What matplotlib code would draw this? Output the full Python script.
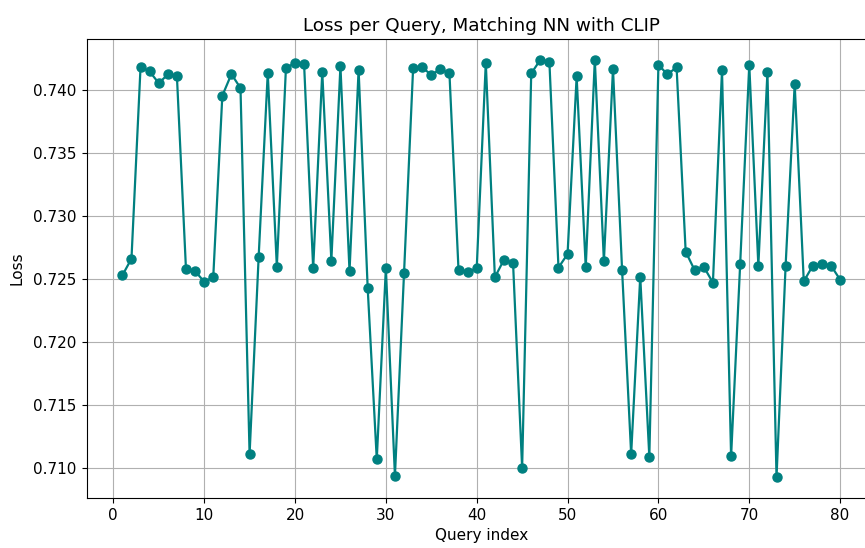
import numpy as np
import matplotlib.pyplot as plt

plt.rcParams['font.size'] = 11

# loss per query
query_idx = np.arange(1, 81)
loss = [
    0.72532, 0.72664, 0.74188, 0.74151, 0.74058, 0.74127, 0.74116, 0.72579,
    0.72566, 0.72481, 0.72516, 0.73958, 0.74130, 0.74019, 0.71111, 0.72680,
    0.74138, 0.72601, 0.74175, 0.74222, 0.74209, 0.72587, 0.74146, 0.72648,
    0.74193, 0.72563, 0.74164, 0.72431, 0.71071, 0.72587, 0.70939, 0.72548,
    0.74177, 0.74183, 0.74124, 0.74169, 0.74135, 0.72571, 0.72558, 0.72587,
    0.74220, 0.72516, 0.72656, 0.72630, 0.71003, 0.74135, 0.74243, 0.74228,
    0.72593, 0.72701, 0.74111, 0.72595, 0.74243, 0.72643, 0.74172, 0.72577,
    0.71111, 0.72521, 0.71090, 0.74204, 0.74127, 0.74185, 0.72720, 0.72571,
    0.72598, 0.72474, 0.74161, 0.71093, 0.72622, 0.74204, 0.72609, 0.74146,
    0.70929, 0.72606, 0.74050, 0.72484, 0.72609, 0.72624, 0.72609, 0.72497,
]

fig = plt.figure(figsize=(8.65, 5.48), dpi=100)
# axes run a bit past the right edge, as in the original crop
ax = fig.add_axes([86.5/865, 50/548, 789.5/865, 459/548])

ax.plot(query_idx, loss, color='teal', marker='o', markersize=6.5, linewidth=1.6)

ax.set_title('Loss per Query, Matching NN with CLIP')
ax.set_xlabel('Query index')
ax.set_ylabel('Loss', labelpad=6)
ax.grid(True)

plt.savefig('out.png', dpi=100)
